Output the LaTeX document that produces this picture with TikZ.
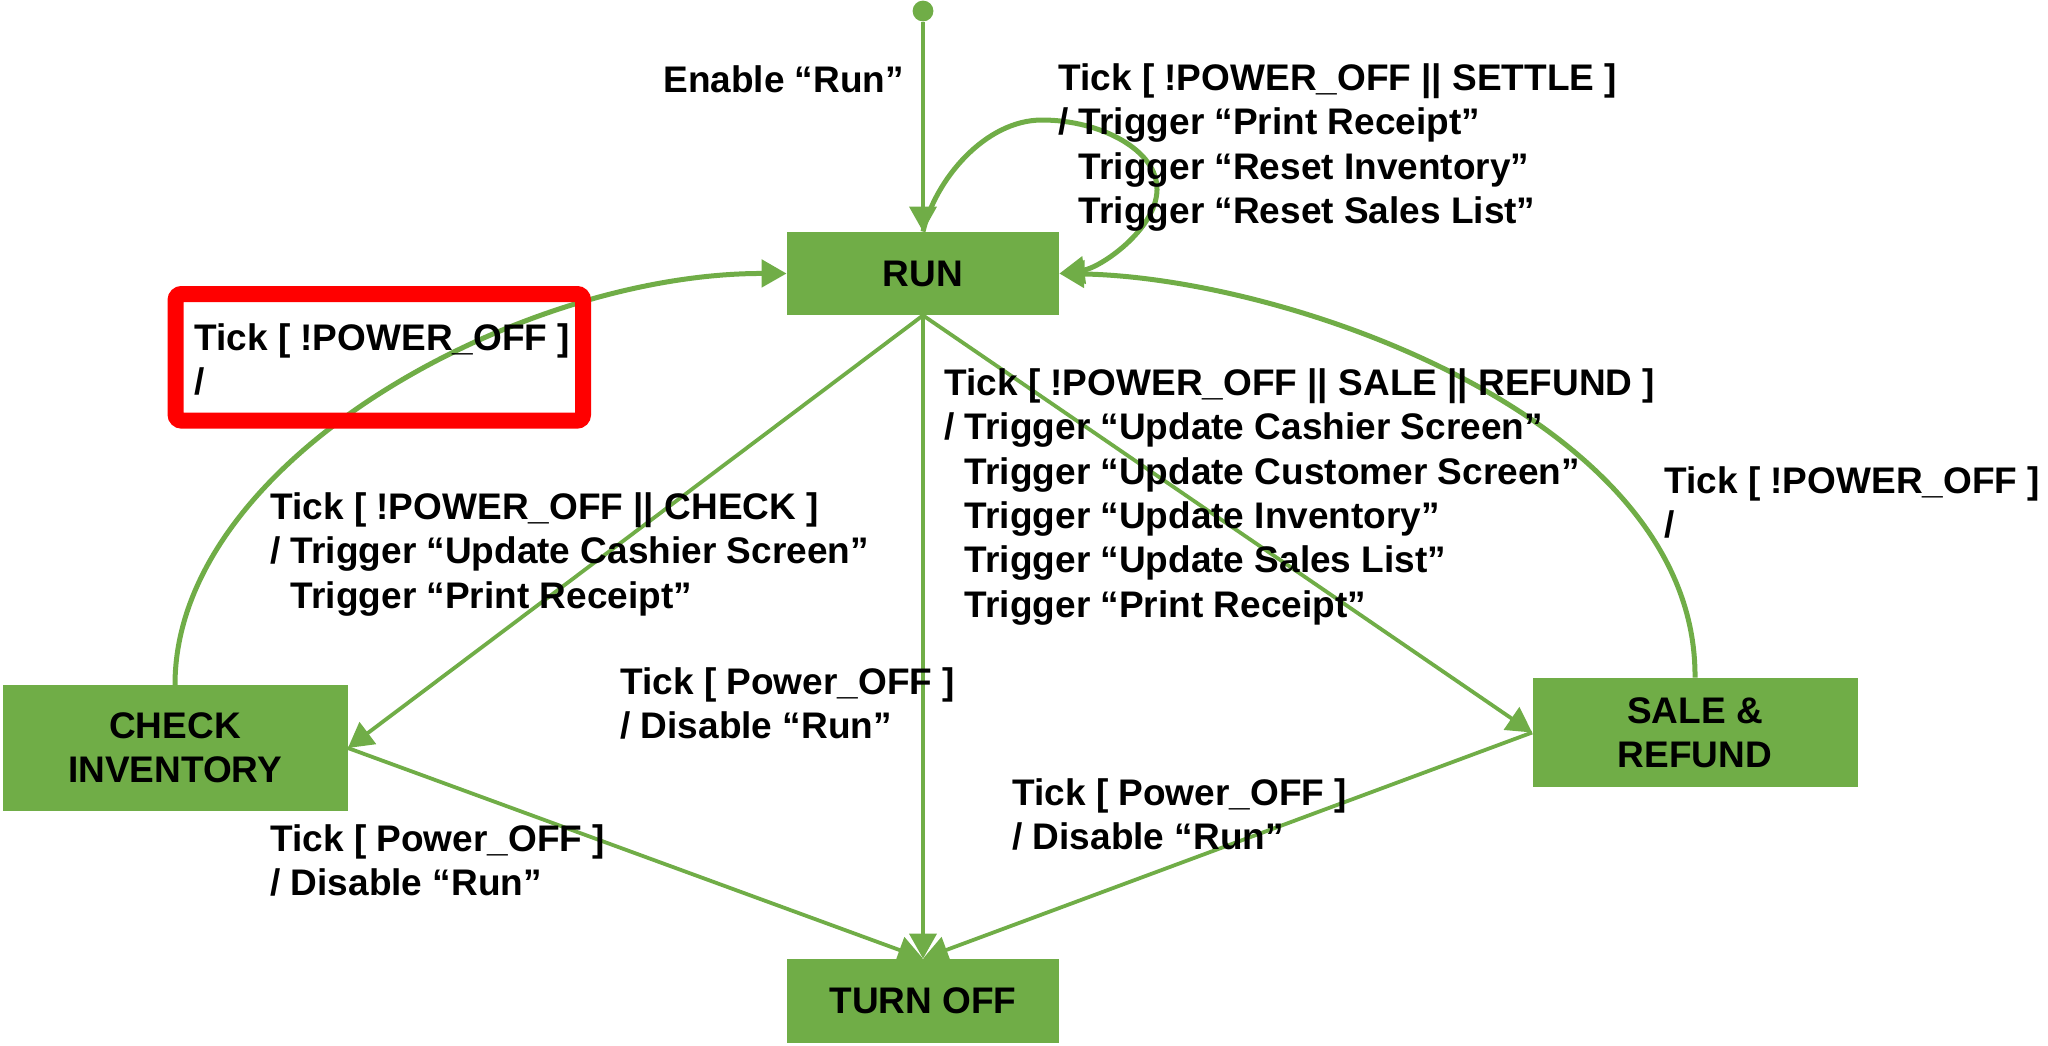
\documentclass[tikz,border=0pt]{standalone}
\usepackage{fontspec}
\setmainfont{Liberation Sans}
\usetikzlibrary{arrows.meta}
\definecolor{stategreen}{HTML}{70AD47}
\definecolor{markred}{HTML}{FF0000}

\begin{document}
\begin{tikzpicture}[x=0.5pt,y=-0.5pt,
  txt/.style={font=\fontsize{18.5pt}{22.2pt}\selectfont\bfseries},
  state/.style={txt, fill=stategreen, inner sep=0pt, align=center},
  lbl/.style={txt, anchor=north west, inner sep=0pt, align=left},
  tip/.style={-{Triangle[length=12.5pt,width=13.5pt]}},
  straight/.style={tip, draw=stategreen, line width=1.9pt},
  curved/.style={tip, draw=stategreen, line width=2.5pt},
]
\useasboundingbox (0,0) rectangle (2048,1045);

% states
\node[state, minimum width=136pt, minimum height=41.5pt] (run) at (923,273.5) {RUN};
\node[state, minimum width=172.5pt, minimum height=62.7pt] (check) at (175,748) {CHECK\\INVENTORY};
\node[state, minimum width=162.5pt, minimum height=54.5pt] (sale) at (1695,732.5) {SALE \&\\REFUND};
\node[state, minimum width=136pt, minimum height=42pt] (off) at (923,1001) {TURN OFF};

% initial pseudo-state
\node[circle, fill=stategreen, inner sep=0pt, minimum size=10.4pt] (init) at (923,11) {};

% transitions
\draw[straight] (init) -- (run.north);
\draw[curved] (run.north) .. controls (935,180) and (985,120) .. (1042,120)
  .. controls (1100,120) and (1158,150) .. (1157,190)
  .. controls (1156,230) and (1100,268) .. (run.east);
\draw[curved] (check.north) .. controls (175,460) and (520,273) .. (run.west);
\draw[curved] (sale.north) .. controls (1697,420) and (1290,278) .. (run.east);
\draw[straight] (run.south) -- (check.east);
\draw[straight] (run.south) -- (off.north);
\draw[straight] (run.south) -- (sale.west);
\draw[straight] (check.east) -- (off.north);
\draw[straight] (sale.west) -- (off.north);

% transition labels
\node[lbl] (lInit) at (663,65) {Enable “Run”};
\node[lbl] (lLoop) at (1058,63) {Tick [ !POWER\_OFF || SETTLE ]\\
  / Trigger “Print Receipt”\\
  \phantom{/ }Trigger “Reset Inventory”\\
  \phantom{/ }Trigger “Reset Sales List”};
\node[lbl] (lBack) at (194,323) {Tick [ !POWER\_OFF ]\\/};
\node[lbl] (lCheck) at (270,492) {Tick [ !POWER\_OFF || CHECK ]\\
  / Trigger “Update Cashier Screen”\\
  \phantom{/ }Trigger “Print Receipt”};
\node[lbl] (lRunOff) at (620,667) {Tick [ Power\_OFF ]\\/ Disable “Run”};
\node[lbl] (lSale) at (944,368) {Tick [ !POWER\_OFF || SALE || REFUND ]\\
  / Trigger “Update Cashier Screen”\\
  \phantom{/ }Trigger “Update Customer Screen”\\
  \phantom{/ }Trigger “Update Inventory”\\
  \phantom{/ }Trigger “Update Sales List”\\
  \phantom{/ }Trigger “Print Receipt”};
\node[lbl] (lSaleBack) at (1664,466) {Tick [ !POWER\_OFF ]\\/};
\node[lbl] (lCheckOff) at (270,824) {Tick [ Power\_OFF ]\\/ Disable “Run”};
\node[lbl] (lSaleOff) at (1012,778) {Tick [ Power\_OFF ]\\/ Disable “Run”};

% highlight frame
\node[draw=markred, line width=8pt, rounded corners=3pt, inner sep=0pt,
      minimum width=203.7pt, minimum height=63.3pt] (mark) at (379.3,357.3) {};
\end{tikzpicture}
\end{document}
